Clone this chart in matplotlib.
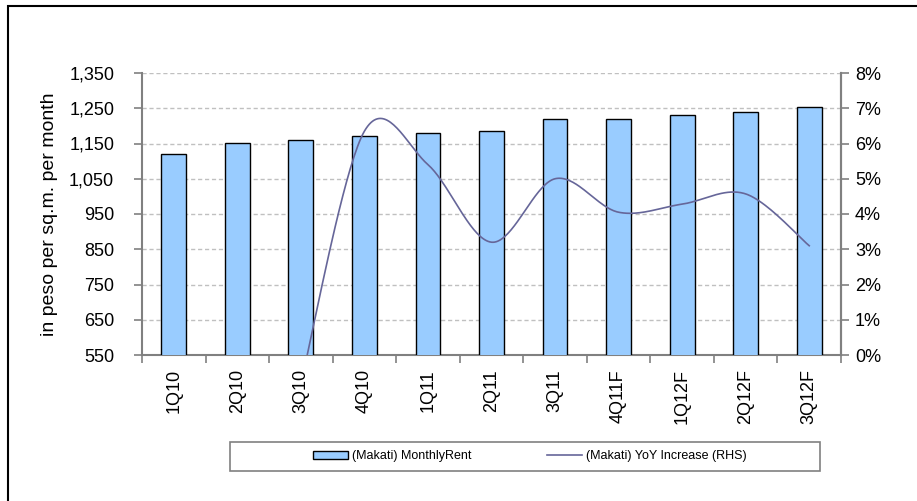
import numpy as np
import matplotlib
matplotlib.use('Agg')
import matplotlib.pyplot as plt
from matplotlib.patches import Rectangle
from matplotlib.ticker import FuncFormatter, MultipleLocator

plt.rcParams['font.family'] = ['Liberation Sans', 'DejaVu Sans']

# data
quarters = ['1Q10', '2Q10', '3Q10', '4Q10', '1Q11', '2Q11', '3Q11',
            '4Q11F', '1Q12F', '2Q12F', '3Q12F']
monthly_rent = [1120, 1151, 1160, 1171, 1179, 1186, 1219, 1219, 1230, 1240, 1254]
yoy_increase = [np.nan, np.nan, -0.8, 6.35, 5.4, 3.2, 5.0, 4.05, 4.28, 4.57, 3.1]
rent_ticks = [550, 650, 750, 850, 950, 1050, 1150, 1250, 1350]


def smooth(x, y, n=40):
    # excel style smoothed line (catmull-rom bezier)
    x = np.asarray(x, float)
    y = np.asarray(y, float)
    px = np.concatenate([[x[0]], x, [x[-1]]])
    py = np.concatenate([[y[0]], y, [y[-1]]])
    xs, ys = [], []
    t = np.linspace(0, 1, n)
    for i in range(1, len(px) - 2):
        p0 = np.array([px[i], py[i]])
        p3 = np.array([px[i + 1], py[i + 1]])
        c1 = p0 + (np.array([px[i + 1], py[i + 1]]) - np.array([px[i - 1], py[i - 1]])) / 6
        c2 = p3 - (np.array([px[i + 2], py[i + 2]]) - np.array([px[i], py[i]])) / 6
        b = ((1 - t) ** 3)[:, None] * p0 + (3 * (1 - t) ** 2 * t)[:, None] * c1 \
            + (3 * (1 - t) * t ** 2)[:, None] * c2 + (t ** 3)[:, None] * p3
        xs.extend(b[:, 0])
        ys.extend(b[:, 1])
    return np.array(xs), np.array(ys)


fig = plt.figure(figsize=(9.17, 5.01), dpi=100)
ax = fig.add_axes([142 / 917, 1 - 355 / 501, (841 - 142) / 917, (355 - 73) / 501])

x = np.arange(len(quarters))
bars = ax.bar(x, monthly_rent, width=0.39, color='#99CCFF', edgecolor='black',
              linewidth=1.0, zorder=3, label='(Makati) MonthlyRent')

ax.set_xlim(-0.5, len(quarters) - 0.5)
ax.set_ylim(550, 1350)
ax.set_yticks(rent_ticks)
ax.yaxis.set_major_formatter(FuncFormatter(lambda v, p: f'{int(v):,}'))
ax.set_xticks(x)
ax.set_xticklabels(quarters, rotation=90, fontsize=13)
ax.tick_params(axis='x', length=0, pad=10)
ax.set_xticks(np.arange(-0.5, len(quarters)), minor=True)
ax.tick_params(axis='x', which='minor', length=6, color='#808080', width=1.2)
ax.tick_params(axis='y', labelsize=13, length=6, color='#808080', width=1.2, pad=14)
ax.set_ylabel('in peso per sq.m. per month', fontsize=14, labelpad=8)
ax.grid(axis='y', linestyle=(0, (3, 2)), color='#C0C0C0', linewidth=1.0, zorder=0)
for s in ['left', 'bottom', 'right']:
    ax.spines[s].set_color('#808080')
    ax.spines[s].set_linewidth(1.5)
ax.spines['top'].set_visible(False)

ax2 = ax.twinx()
mask = ~np.isnan(yoy_increase)
sx, sy = smooth(x[mask], np.array(yoy_increase)[mask])
line, = ax2.plot(sx, sy, color='#666699', linewidth=1.2, zorder=4,
                 label='(Makati) YoY Increase (RHS)')
ax2.set_ylim(0, 8)
ax2.yaxis.set_major_locator(MultipleLocator(1))
ax2.yaxis.set_major_formatter(FuncFormatter(lambda v, p: f'{int(v)}%'))
ax2.tick_params(axis='y', labelsize=13, length=6, color='#808080', width=1.2, pad=4)
for s in ['left', 'bottom', 'top']:
    ax2.spines[s].set_visible(False)
ax2.spines['right'].set_color('#808080')
ax2.spines['right'].set_linewidth(1.5)

# legend box
fig.add_artist(Rectangle((230 / 917, 1 - 471 / 501), 590 / 917, 29 / 501,
                         transform=fig.transFigure, fill=False,
                         edgecolor='#808080', linewidth=1.2))
fig.legend([bars, line], ['(Makati) MonthlyRent', '(Makati) YoY Increase (RHS)'],
           loc='center', bbox_to_anchor=(530 / 917, 1 - 456.5 / 501), ncol=2,
           frameon=False, fontsize=9, handlelength=2.8, handletextpad=0.35,
           columnspacing=6.0, handleheight=0.6)

# outer frame
fig.add_artist(Rectangle((8 / 917, -0.1), 1.2, 1.1 - 6 / 501,
                         transform=fig.transFigure, fill=False,
                         edgecolor='black', linewidth=1.5))

fig.savefig('out.png', dpi=100)
